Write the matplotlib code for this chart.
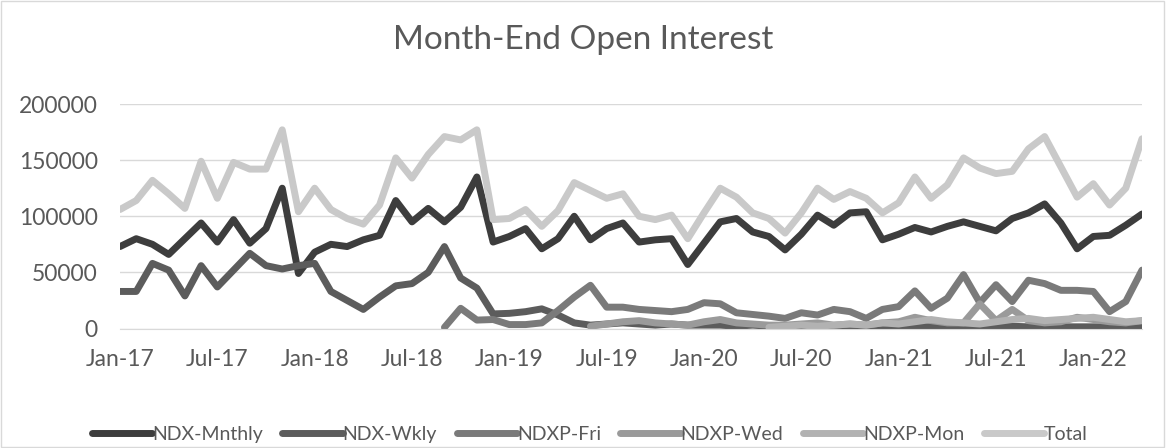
import matplotlib
matplotlib.use("Agg")
import matplotlib.pyplot as plt
from matplotlib.patches import Rectangle
import numpy as np
import pandas as pd

# month-end dates, Jan-17 .. Apr-22
months = pd.date_range("2017-01-01", periods=64, freq="MS")
tick_idx = list(range(0, 64, 6))
tick_labels = [months[i].strftime("%b-%y") for i in tick_idx]

# values (contracts)
ndx_mnthly = [73000, 80000, 75000, 66000, 80000, 94000, 77000, 97000, 76000, 89000,
              125000, 49000, 68000, 75000, 73000, 79000, 83000, 114000, 95000, 107000,
              95000, 108000, 135000, 77000, 82000, 89000, 71000, 80000, 100000, 79000,
              89000, 94000, 77000, 79000, 80000, 57000, 76000, 95000, 98000, 86000,
              82000, 70000, 84000, 101000, 92000, 103000, 104000, 79000, 84000, 90000,
              86000, 91000, 95000, 91000, 87000, 98000, 103000, 111000, 94000, 71000,
              82000, 83000, 92000, 102000]

ndx_wkly = [33000, 33000, 58000, 52000, 29000, 56000, 37000, 52000, 67000, 56000,
            53000, 56000, 58000, 33000, 25000, 17000, 28000, 38000, 40000, 50000,
            73000, 45000, 36000, 13000, 13500, 15000, 17500, 12000, 5000, 3000,
            4000, 5000, 4000, 3000, 4000, 3000, 3000, 3000, 2000, 3000,
            2000, 2000, 2000, 2000, 2000, 2000, 2000, 2000, 2000, 2000,
            2000, 2000, 2000, 2000, 2000, 2000, 1500, 1500, 1500, 1500,
            1500, 1500, 1500, 1500]

ndxp_fri = [None] * 20 + [
    1000, 18000, 7500, 8000, 3500, 3500, 5000, 16000, 28000, 38500,
    19000, 19000, 17000, 16000, 15000, 17000, 23000, 22000, 14000, 12500,
    11000, 9000, 14000, 12000, 17000, 15000, 9000, 17000, 19500, 33500,
    18000, 27000, 48000, 23000, 39000, 24000, 43000, 40000, 34000, 34000,
    33000, 15000, 24000, 52000]

ndxp_wed = [None] * 29 + [
    2000, 4000, 6000, 7000, 5000, 4000, 3000, 6000, 8000, 5000,
    4000, 3000, 3000, 4000, 5000, 3000, 4000, 3000, 5000, 6000,
    10000, 7000, 5000, 5000, 22000, 7000, 17000, 7000, 5000, 6000,
    10000, 8000, 6000, 5000, 7000]

ndxp_mon = [None] * 40 + [
    1000, 2000, 3000, 2000, 3000, 4000, 3000, 5000, 4000, 6000,
    8000, 6000, 5000, 4000, 6000, 8000, 9000, 7000, 8000, 9000,
    10000, 8000, 6000, 7000]

total = [106000, 114000, 132000, 120000, 107000, 149000, 116000, 148000, 142000, 142000,
         177000, 104000, 125000, 106000, 98000, 93000, 110000, 152000, 134000, 155000,
         171000, 168000, 177000, 97000, 98000, 106000, 91000, 105000, 130000, 123000,
         116000, 120000, 100000, 97000, 101000, 80000, 103000, 125000, 117000, 103000,
         98000, 85000, 103000, 125000, 115000, 122000, 116000, 103000, 112000, 135000,
         116000, 128000, 152000, 143000, 138000, 140000, 160000, 171000, 144000, 117000,
         129000, 110000, 125000, 169000]

series_names = ["NDX-Mnthly", "NDX-Wkly", "NDXP-Fri", "NDXP-Wed", "NDXP-Mon", "Total"]
series_vals = [ndx_mnthly, ndx_wkly, ndxp_fri, ndxp_wed, ndxp_mon, total]
colors = ["#3d3d3d", "#5c5c5c", "#7a7a7a", "#9a9a9a", "#b2b2b2", "#c9c9c9"]

plt.rcParams["font.family"] = ["Lato", "DejaVu Sans"]

fig = plt.figure(figsize=(11.66, 4.48), dpi=100)
ax = fig.add_axes([120 / 1166, 1 - 328.5 / 448, (1142 - 120) / 1166, (328.5 - 104) / 448])

x = np.arange(len(months))
for name, vals, c in zip(series_names, series_vals, colors):
    y = np.array([np.nan if v is None else v for v in vals], dtype=float)
    ax.plot(x, y, color=c, lw=5, label=name,
            solid_joinstyle="round", solid_capstyle="round")

ax.set_xlim(0, len(months) - 1)
ax.set_ylim(0, 200000)
ax.set_yticks(range(0, 200001, 50000))
ax.set_yticklabels([str(v) for v in range(0, 200001, 50000)])
ax.set_xticks(tick_idx)
ax.set_xticklabels(tick_labels)

ax.grid(axis="y", color="#d9d9d9", lw=1)
ax.set_axisbelow(True)
for s in ["top", "right", "left"]:
    ax.spines[s].set_visible(False)
ax.spines["bottom"].set_color("#d9d9d9")
ax.tick_params(axis="both", length=0, labelsize=16.5, labelcolor="#595959")
ax.tick_params(axis="y", pad=16)
ax.tick_params(axis="x", pad=15)

fig.text(0.5, 1 - 40 / 448, "Month-End Open Interest", ha="center", va="center",
         fontsize=24, color="#595959")

fig.legend(loc="center", bbox_to_anchor=(590 / 1166, 1 - 434 / 448), ncol=6,
           frameon=False, fontsize=14, handlelength=3.1, handletextpad=0.0,
           columnspacing=1.0, labelcolor="#595959")

fig.patches.append(Rectangle((0.001, 0.002), 0.997, 0.996, transform=fig.transFigure,
                             fill=False, edgecolor="#d9d9d9", lw=1))

fig.savefig("out.png", dpi=100)
